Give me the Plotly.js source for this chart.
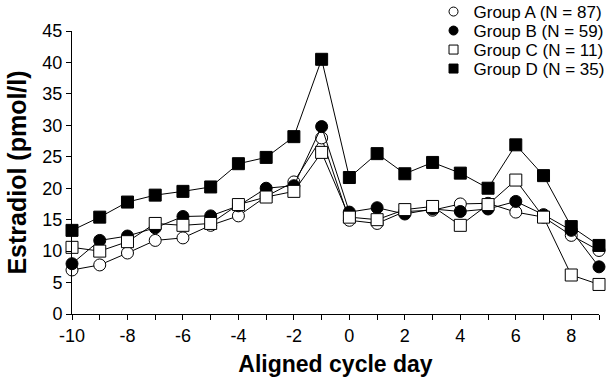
<!DOCTYPE html>
<html>
<head>
<meta charset="utf-8">
<script src="https://cdn.plot.ly/plotly-3.0.1.min.js"></script>
<style>html,body{margin:0;padding:0;background:#fff;}#chart{width:615px;height:383px;}</style>
</head>
<body>
<div id="chart"></div>
<script>
const days = [-10,-9,-8,-7,-6,-5,-4,-3,-2,-1,0,1,2,3,4,5,6,7,8,9];
const groupA = [7.0,7.8,9.7,11.7,12.1,14.1,15.6,18.7,21.0,28.0,14.9,14.4,16.3,16.5,17.5,17.6,16.2,15.4,12.5,10.1];
const groupB = [8.0,11.7,12.4,13.7,15.5,15.6,17.2,20.0,20.4,29.8,16.2,16.9,15.9,16.7,16.3,16.7,17.9,15.8,13.3,7.5];
const groupC = [10.6,10.0,11.5,14.4,14.1,14.4,17.4,18.6,19.5,25.7,15.4,15.0,16.6,17.1,14.1,17.4,21.3,15.4,6.2,4.7];
const groupD = [13.3,15.4,17.8,18.9,19.5,20.2,23.9,24.9,28.2,40.5,21.7,25.5,22.3,24.1,22.4,20.0,26.9,22.0,13.9,10.9];
const names = ['Group A (N = 87)','Group B (N = 59)','Group C (N = 11)','Group D (N = 35)'];
const series = [groupA, groupB, groupC, groupD];
const symbols = ['circle','circle','square','square'];
const fills = ['#ffffff','#000000','#ffffff','#000000'];
const legendIds = ['legend','legend2','legend3','legend4'];

const traces = [];
series.forEach((ys, i) => {
  traces.push({
    x: days, y: ys, type: 'scatter', mode: 'lines+markers',
    line: {color: '#000', width: 1},
    marker: {symbol: symbols[i], size: 12, color: fills[i], line: {color: '#000', width: 1}},
    showlegend: false, cliponaxis: false
  });
});
series.forEach((ys, i) => {
  traces.push({
    x: [null], y: [null], type: 'scatter', mode: 'markers', name: names[i],
    legend: legendIds[i],
    marker: {symbol: symbols[i], size: 9, color: fills[i], line: {color: '#000', width: 1}},
    showlegend: true
  });
});

const fontFam = 'Liberation Sans, Arial, sans-serif';
const layout = {
  width: 615, height: 383,
  margin: {l: 72, r: 15.5, t: 31, b: 69, autoexpand: false},
  paper_bgcolor: '#fff', plot_bgcolor: '#fff',
  font: {family: fontFam, color: '#000', size: 18},
  xaxis: {
    range: [-10, 9], tickvals: days,
    ticktext: days.map(d => d % 2 === 0 ? String(d) : ''),
    ticks: 'outside', ticklen: 5, tickwidth: 1, tickcolor: '#000',
    showline: true, linecolor: '#000', linewidth: 1, showgrid: false, zeroline: false,
    tickfont: {size: 18},
    title: {text: 'Aligned cycle day', font: {size: 23, family: fontFam, weight: 'bold'}, standoff: 11}
  },
  yaxis: {
    range: [0, 45], dtick: 5, tick0: 0,
    ticks: 'outside', ticklen: 5, tickwidth: 1, tickcolor: '#000',
    showline: true, linecolor: '#000', linewidth: 1, showgrid: false, zeroline: false,
    tickfont: {size: 18},
    title: {text: 'Estradiol (pmol/l)\u00a0\u00a0\u00a0\u00a0', font: {size: 25, family: fontFam, weight: 'bold'}, standoff: 8}
  },
  showlegend: true
};
const rowY = [12, 31, 50, 69];
legendIds.forEach((id, i) => {
  layout[id] = {
    x: 0.686, xanchor: 'left', y: (314 - rowY[i]) / 283, yanchor: 'middle',
    bgcolor: 'rgba(0,0,0,0)', font: {size: 17, family: fontFam}, itemwidth: 30, borderwidth: 0
  };
});
Plotly.newPlot('chart', traces, layout, {staticPlot: true, displayModeBar: false});
</script>
</body>
</html>
